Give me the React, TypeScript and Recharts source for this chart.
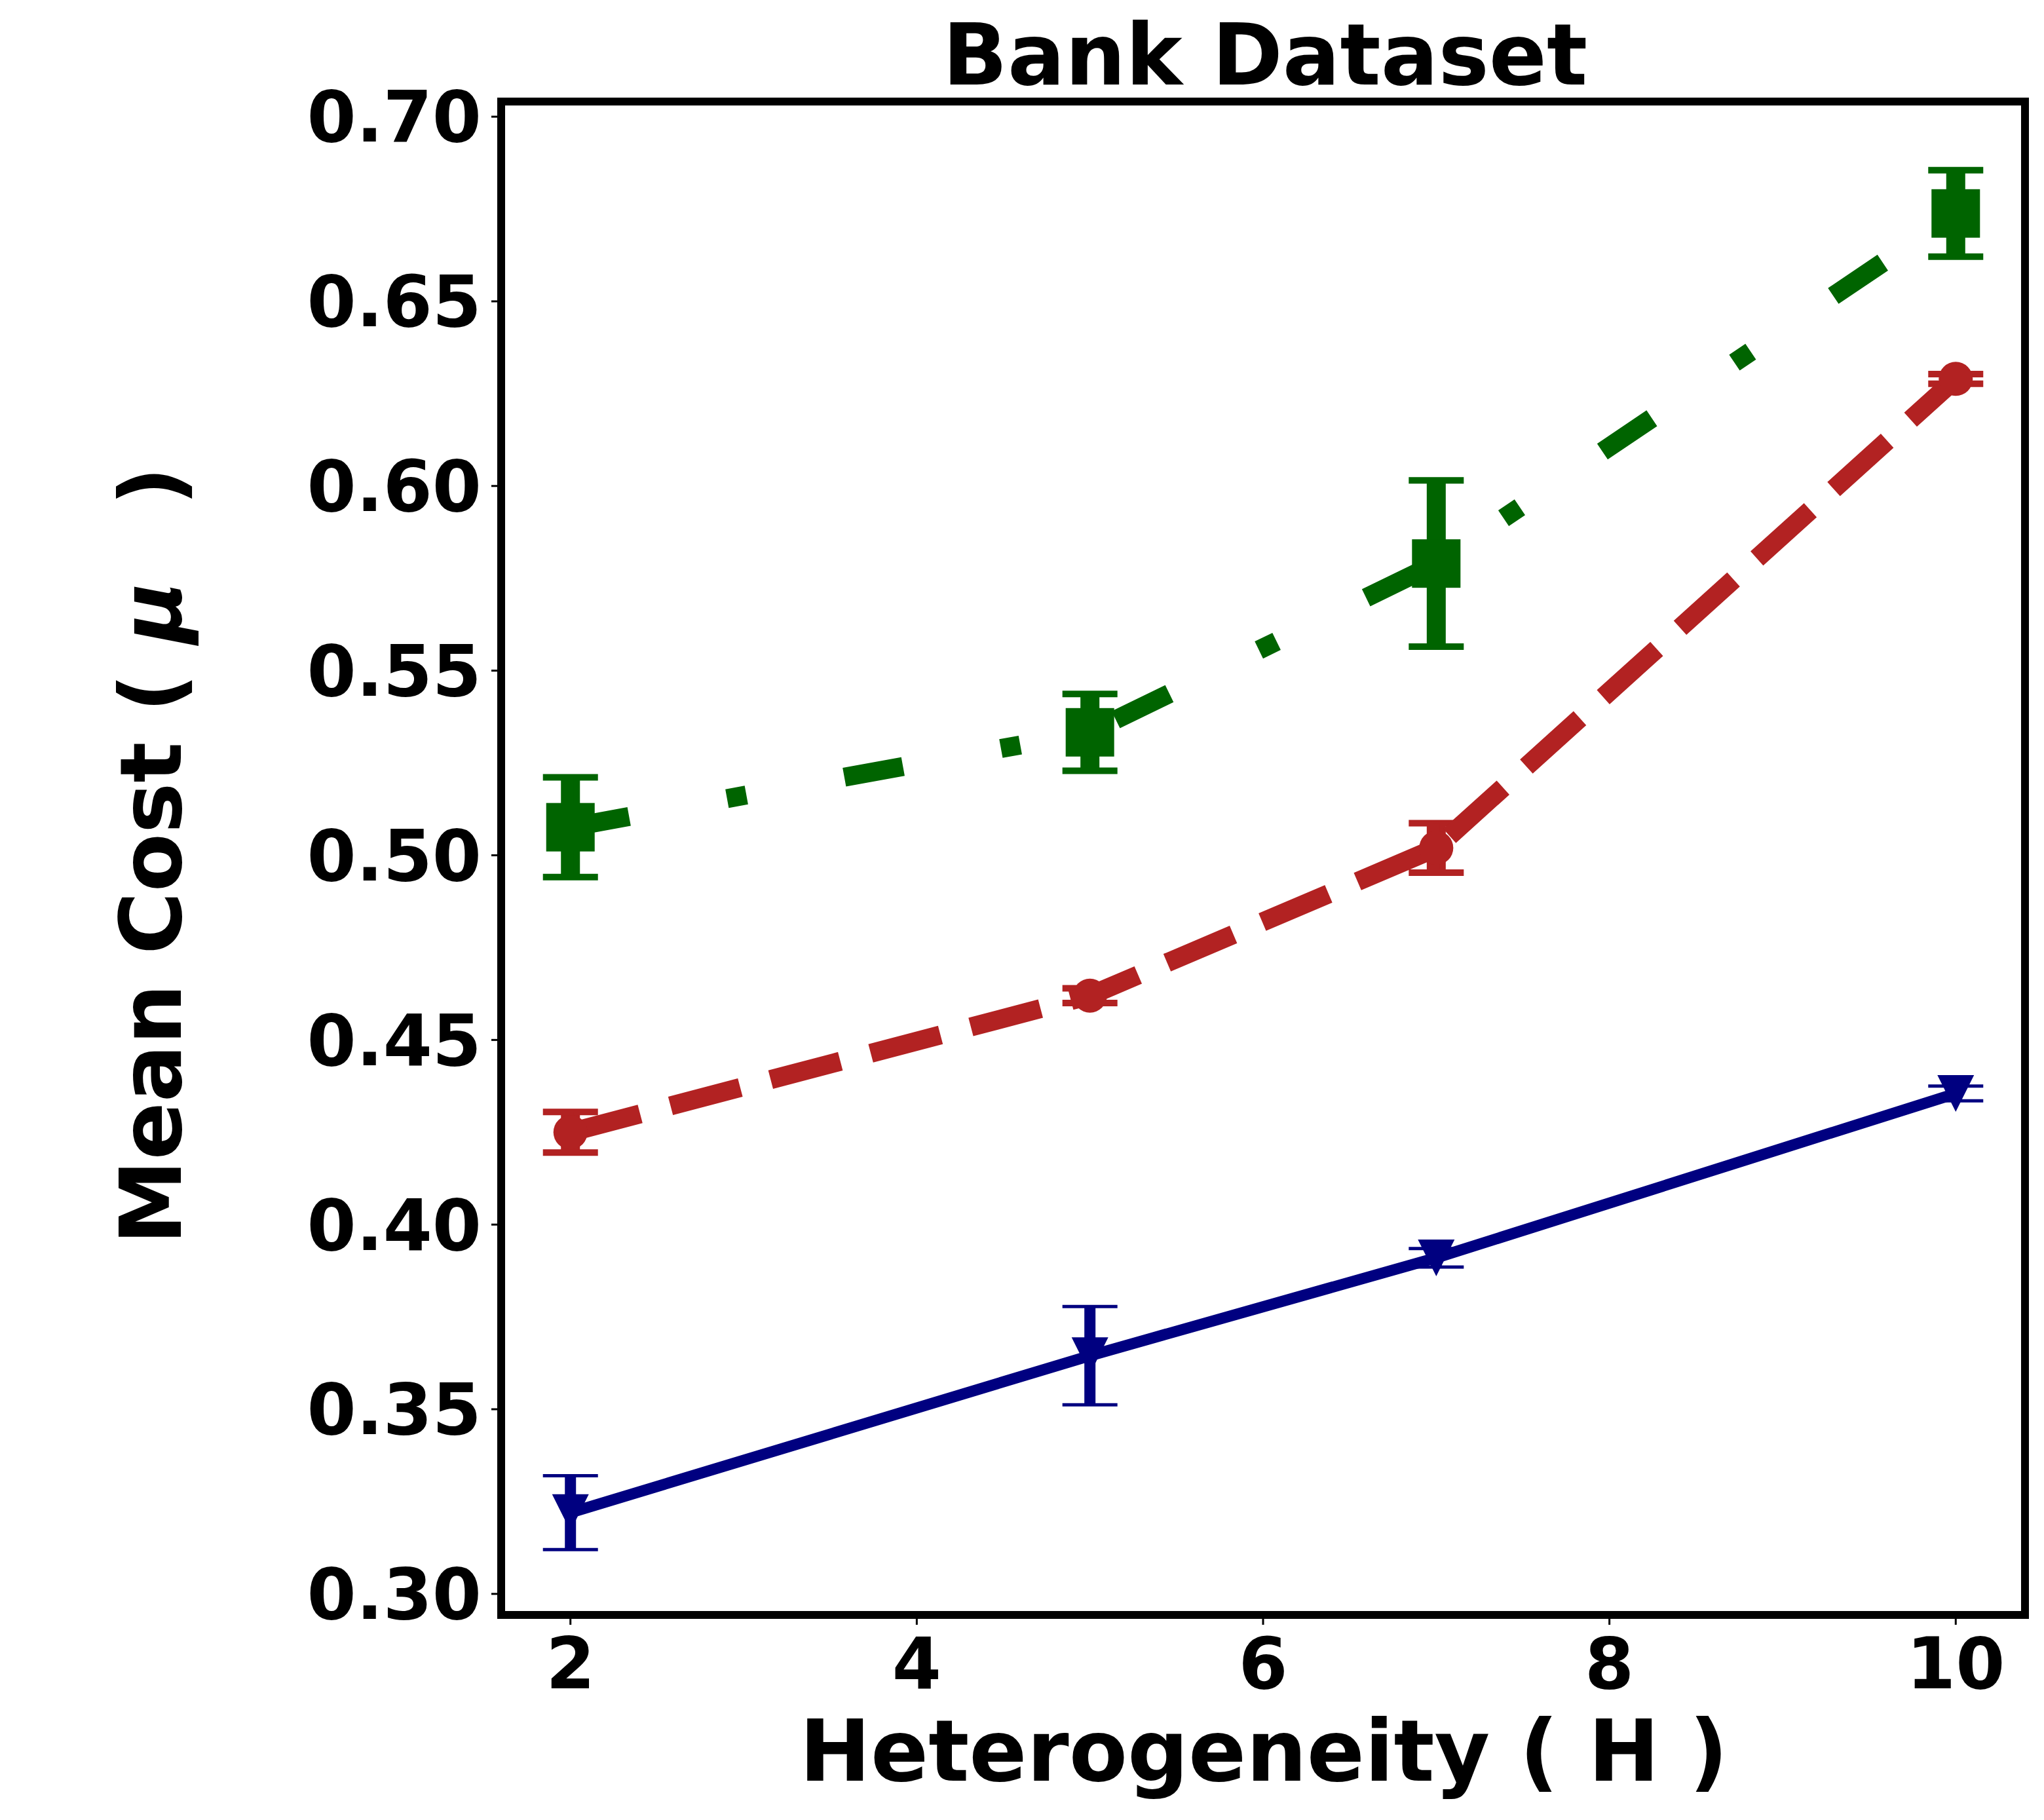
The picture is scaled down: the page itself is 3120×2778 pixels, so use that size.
import { LineChart, Line, XAxis, YAxis, ErrorBar, ReferenceArea, Customized } from 'recharts'

// Heterogeneity levels on the x axis
const hLevels = [2, 5, 7, 10]

// three series (no legend in the source): mean cost and its error
const navyMean = [0.322, 0.3645, 0.391, 0.4355]
const navyErr = [0.01, 0.0133, 0.0025, 0.002]
const redMean = [0.425, 0.462, 0.502, 0.629]
const redErr = [0.0055, 0.002, 0.0067, 0.0013]
const greenMean = [0.5076, 0.5333, 0.579, 0.6738]
const greenErr = [0.0135, 0.0104, 0.0225, 0.0117]

const xTicks = [2, 4, 6, 8, 10]
const yTicks = [0.3, 0.35, 0.4, 0.45, 0.5, 0.55, 0.6, 0.65, 0.7]
const xDomain = [1.6, 10.4]
const yDomain = [0.2943, 0.7041]

const data = hLevels.map((h, i) => ({
  h,
  navy: navyMean[i],
  navyErr: navyErr[i],
  red: redMean[i],
  redErr: redErr[i],
  green: greenMean[i],
  greenErr: greenErr[i],
}))

const FONT = '"DejaVu Sans", sans-serif'
const NAVY = '#000080'
const RED = '#B22222'
const GREEN = '#006400'

const W = 3120
const H = 2778
const PLOT_LEFT = 765
const PLOT_RIGHT = 3091
const PLOT_TOP = 155
const PLOT_BOTTOM = 2465
const Y_AXIS_W = 300
const X_AXIS_H = 200

const TriangleDown = (props: any) => {
  const { cx, cy, index } = props
  if (cx == null || cy == null) return <g key={`tri-${index}`} />
  const s = 28
  return (
    <polygon
      key={`tri-${index}`}
      points={`${cx - s},${cy - s} ${cx + s},${cy - s} ${cx},${cy + s}`}
      fill={NAVY}
    />
  )
}

const Circle = (props: any) => {
  const { cx, cy, index } = props
  if (cx == null || cy == null) return <g key={`circ-${index}`} />
  return <circle key={`circ-${index}`} cx={cx} cy={cy} r={26} fill={RED} />
}

const Square = (props: any) => {
  const { cx, cy, index } = props
  if (cx == null || cy == null) return <g key={`sq-${index}`} />
  return <rect key={`sq-${index}`} x={cx - 37} y={cy - 37} width={74} height={74} fill={GREEN} />
}

const Texts = () => (
  <g fontFamily={FONT} fill="#000" fontWeight="bold">
    <text x={1931} y={129} textAnchor="middle" fontSize={130}>
      Bank Dataset
    </text>
    <text x={1929} y={2718} textAnchor="middle" fontSize={130}>
      Heterogeneity ( H )
    </text>
    <text
      transform="translate(276,1306) rotate(-90)"
      x={0}
      y={0}
      textAnchor="middle"
      fontSize={130}
    >
      <tspan>Mean Cost ( </tspan>
      <tspan fontStyle="italic">μ</tspan>
      <tspan dx={70}> )</tspan>
    </text>
  </g>
)

export default function App() {
  return (
    <div style={{ position: 'absolute', left: 0, top: 0, width: W, height: H, background: '#fff' }}>
      <LineChart
        width={W}
        height={H}
        data={data}
        margin={{
          top: PLOT_TOP,
          right: W - PLOT_RIGHT,
          bottom: H - PLOT_BOTTOM - X_AXIS_H,
          left: PLOT_LEFT - Y_AXIS_W,
        }}
      >
        <XAxis
          dataKey="h"
          type="number"
          domain={xDomain}
          ticks={xTicks}
          allowDataOverflow
          height={X_AXIS_H}
          axisLine={false}
          tickLine={{ stroke: '#000', strokeWidth: 3 }}
          tickSize={15}
          tickMargin={20}
          tick={{ fill: '#000', fontSize: 108, fontWeight: 'bold', fontFamily: FONT }}
        />
        <YAxis
          type="number"
          domain={yDomain}
          ticks={yTicks}
          allowDataOverflow
          width={Y_AXIS_W}
          axisLine={false}
          tickLine={{ stroke: '#000', strokeWidth: 3 }}
          tickSize={15}
          tickMargin={15}
          tickFormatter={(v: number) => v.toFixed(2)}
          tick={{ fill: '#000', fontSize: 108, fontWeight: 'bold', fontFamily: FONT }}
        />
        <ReferenceArea
          x1={xDomain[0]}
          x2={xDomain[1]}
          y1={yDomain[0]}
          y2={yDomain[1]}
          fill="none"
          fillOpacity={0}
          stroke="#000"
          strokeWidth={12}
          ifOverflow="visible"
        />
        <Line
          dataKey="navy"
          type="linear"
          stroke={NAVY}
          strokeWidth={17}
          strokeLinejoin="round"
          dot={TriangleDown}
          activeDot={false}
          isAnimationActive={false}
        >
          <ErrorBar dataKey="navyErr" width={0} strokeWidth={17} stroke={NAVY} isAnimationActive={false} />
          <ErrorBar dataKey="navyErr" width={42} strokeWidth={5} stroke={NAVY} isAnimationActive={false} />
        </Line>
        <Line
          dataKey="red"
          type="linear"
          stroke={RED}
          strokeWidth={29}
          strokeDasharray="110 48"
          strokeLinejoin="round"
          dot={Circle}
          activeDot={false}
          isAnimationActive={false}
        >
          <ErrorBar dataKey="redErr" width={0} strokeWidth={29} stroke={RED} isAnimationActive={false} />
          <ErrorBar dataKey="redErr" width={42} strokeWidth={10} stroke={RED} isAnimationActive={false} />
        </Line>
        <Line
          dataKey="green"
          type="linear"
          stroke={GREEN}
          strokeWidth={29}
          strokeDasharray="91 152 30 152"
          strokeLinejoin="round"
          dot={Square}
          activeDot={false}
          isAnimationActive={false}
        >
          <ErrorBar dataKey="greenErr" width={0} strokeWidth={29} stroke={GREEN} isAnimationActive={false} />
          <ErrorBar dataKey="greenErr" width={42} strokeWidth={10} stroke={GREEN} isAnimationActive={false} />
        </Line>
        <Customized component={<Texts />} />
      </LineChart>
    </div>
  )
}
